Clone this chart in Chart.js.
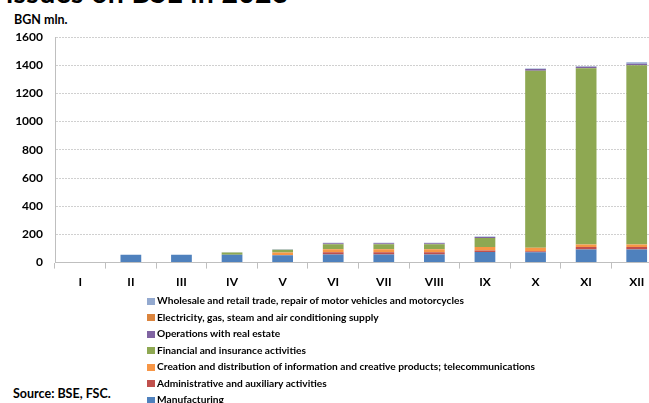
<!DOCTYPE html>
<html>
<head>
<meta charset="utf-8">
<script src="https://cdn.jsdelivr.net/npm/chart.js@4.4.1/dist/chart.umd.min.js"></script>
<style>
    html, body { margin: 0; padding: 0; background: #fff; overflow: hidden; width: 649px; height: 403px; }
    body { position: relative; font-family: Lato, "Open Sans", sans-serif; font-weight: bold; color: #000; }
    #title { position: absolute; left: 6px; top: -22px; font-size: 28.5px; line-height: 28.5px; letter-spacing: 0.3px; white-space: nowrap; }
    #unit { position: absolute; left: 14px; top: 12px; font-size: 12.5px; }
    #wrap { position: absolute; left: 0; top: 0; width: 662px; height: 295px; }
    #legend { position: absolute; left: 147px; top: 292px; font-size: 10.2px; }
    #legend div { height: 16.5px; line-height: 16.5px; white-space: nowrap; }
    #legend span.box { display: inline-block; width: 8px; height: 7px; margin-right: 2px; vertical-align: -0.5px; }
    #source { position: absolute; left: 13px; top: 386px; font-size: 12.5px; }
</style>
</head>
<body>
<div id="title">issues on BSE in 2023</div>
<div id="unit">BGN mln.</div>
<div id="wrap"><canvas id="chart"></canvas></div>
<div id="legend"></div>
<div id="source">Source: BSE, FSC.</div>

<script>
// -------------------------------
// Daten (BGN mln.)
// -------------------------------
const months = ["I", "II", "III", "IV", "V", "VI", "VII", "VIII", "IX", "X", "XI", "XII"];

const manufacturing  = [0, 55, 55, 55, 52, 57, 57, 57, 75, 73, 93, 93];
const administrative = [0, 0, 0, 0, 0, 16, 16, 16, 10, 8, 18, 18];
const creation       = [0, 0, 0, 0, 20, 22, 22, 22, 25, 25, 17, 17];
const financial      = [0, 0, 0, 17, 20, 35, 35, 35, 65, 1255, 1251, 1271];
const realEstate     = [0, 0, 0, 0, 0, 7, 7, 7, 7, 12, 10, 12];
const electricity    = [0, 0, 0, 0, 0, 0, 0, 0, 0, 0, 0, 0];
const wholesale      = [0, 0, 0, 2, 3, 3, 3, 3, 3, 3, 3, 10];

const yTicks = [0, 200, 400, 600, 800, 1000, 1200, 1400, 1600];

const series = [
    { label: "Manufacturing", data: manufacturing, color: "#4F81BD" },
    { label: "Administrative and auxiliary activities", data: administrative, color: "#C0504D" },
    { label: "Creation and distribution of information and creative products; telecommunications", data: creation, color: "#F79646" },
    { label: "Financial and insurance activities", data: financial, color: "#8EA852" },
    { label: "Operations with real estate", data: realEstate, color: "#8064A2" },
    { label: "Electricity, gas, steam and air conditioning supply", data: electricity, color: "#DB843D" },
    { label: "Wholesale and retail trade, repair of motor vehicles and motorcycles", data: wholesale, color: "#93A9CF" }
];

const tickFont = { family: "Lato", weight: "bold", size: 12 };

// -------------------------------
// Diagramm
// -------------------------------
const chart = new Chart(document.getElementById("chart"), {
    type: "bar",
    data: {
        labels: months,
        datasets: series.map(s => ({
            label: s.label,
            data: s.data,
            backgroundColor: s.color,
            borderWidth: 0,
            categoryPercentage: 1,
            barPercentage: 0.41
        }))
    },
    options: {
        responsive: true,
        maintainAspectRatio: false,
        animation: false,
        layout: { padding: { top: 37, right: 0, bottom: 0, left: 0 } },
        plugins: {
            legend: { display: false },
            tooltip: { enabled: false }
        },
        scales: {
            x: {
                stacked: true,
                grid: {
                    offset: true,
                    drawOnChartArea: false,
                    drawTicks: true,
                    tickLength: 6,
                    color: "#BFBFBF"
                },
                border: { color: "#BFBFBF", width: 1 },
                ticks: { color: "#000", font: tickFont, padding: 6 }
            },
            y: {
                stacked: true,
                min: 0,
                max: 1600,
                afterBuildTicks: axis => { axis.ticks = yTicks.map(v => ({ value: v })); },
                afterFit: axis => { axis.width = 55; },
                grid: {
                    drawTicks: false,
                    color: "#D0D0D0",
                    lineWidth: 1
                },
                // in v4 gilt border.dash fuer die Gitterlinien
                border: { color: "#BFBFBF", width: 1, dash: [2, 1] },
                ticks: { color: "#000", font: tickFont, padding: 12, callback: v => String(v) }
            }
        }
    }
});

// -------------------------------
// Legende (umgekehrte Reihenfolge)
// -------------------------------
let html = "";
series.slice().reverse().forEach(s => {
    html += `<div><span class="box" style="background:${s.color}"></span>${s.label}</div>`;
});
document.getElementById("legend").innerHTML = html;
</script>
</body>
</html>
